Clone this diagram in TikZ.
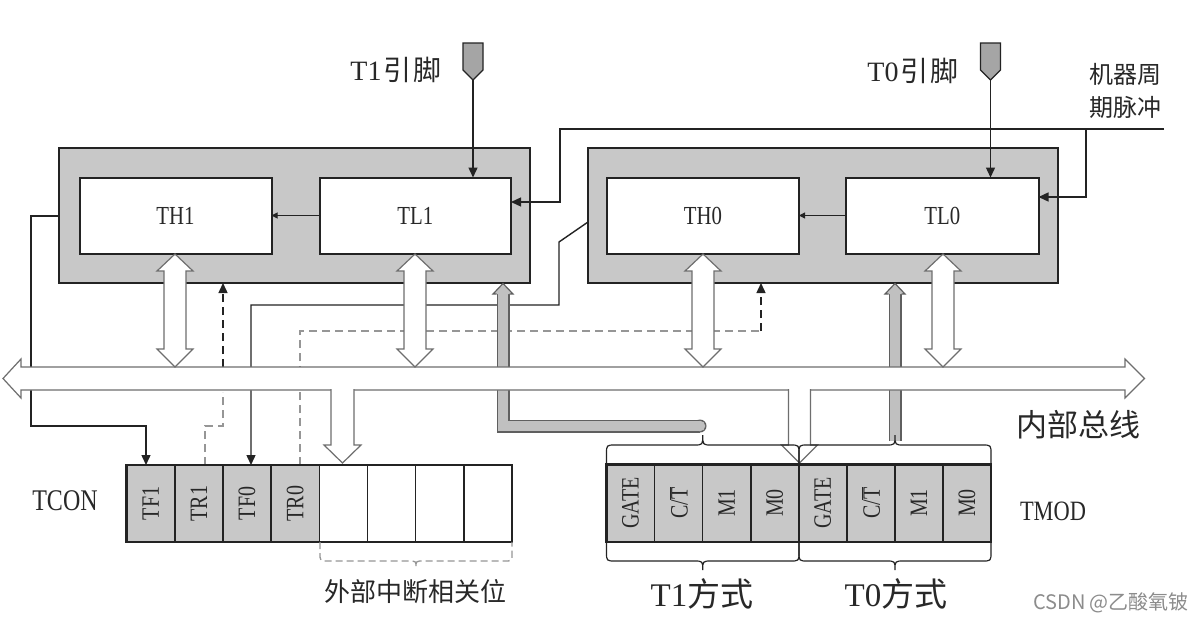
\documentclass[tikz,border=0pt]{standalone}
\usepackage{fontspec}
\setmainfont{Liberation Serif}
\newfontfamily\narrow[FakeStretch=0.8]{Liberation Serif}
\newfontfamily\cjk{Noto Sans CJK SC}
\usetikzlibrary{arrows.meta}
\definecolor{boxgray}{RGB}{200,200,200}
\definecolor{pingray}{RGB}{165,165,165}
\definecolor{bandgray}{RGB}{192,192,192}
\definecolor{bandedge}{RGB}{95,95,95}
\definecolor{edge}{RGB}{35,35,35}
\definecolor{arrowedge}{RGB}{110,110,110}
\definecolor{dashgray}{RGB}{150,150,150}
\definecolor{txt}{RGB}{40,40,40}
\definecolor{wm}{RGB}{140,140,140}
\newcommand\dblarrow[1]{%
 \filldraw[hollow] (#1,254) -- ({#1+18},271) -- ({#1+11},271) -- ({#1+11},349) -- ({#1+18},349) -- (#1,367) -- ({#1-18},349) -- ({#1-11},349) -- ({#1-11},271) -- ({#1-18},271) -- cycle;}
\newcommand\drawbrace[8]{%
 \draw[#8] (#1,#3) -- (#1,{#4-(#7)}) .. controls (#1,#4) .. ({#1+#6},#4) -- ({(#1+#2)/2-#6},#4) .. controls ({(#1+#2)/2},#4) .. ({(#1+#2)/2},#5) .. controls ({(#1+#2)/2},#4) .. ({(#1+#2)/2+#6},#4) -- ({#2-#6},#4) .. controls (#2,#4) .. (#2,{#4-(#7)}) -- (#2,#3);}
\begin{document}
\begin{tikzpicture}[x=1pt,y=-1pt,
  outerbox/.style={draw=edge,line width=2pt,fill=boxgray,anchor=north west,inner sep=0pt,outer sep=0pt},
  innerbox/.style={draw=edge,line width=2pt,fill=white,inner sep=0pt,outer sep=0pt,minimum height=76pt,text=txt,font={\fontsize{26}{26}\selectfont\narrow}},
  conn/.style={draw=edge,line width=1.4pt},
  tipb/.style={-{Triangle[length=10pt,width=9pt]}},
  tips/.style={-{Triangle[length=6pt,width=6pt]}},
  hollow/.style={fill=white,draw=arrowedge,line width=1.2pt},
  gdash/.style={draw=dashgray,line width=1.4pt,dash pattern=on 8pt off 5pt},
  bdash/.style={draw=edge,line width=1.4pt,dash pattern=on 8pt off 5pt},
  celllab/.style={rotate=90,text=txt,inner sep=0pt,font={\fontsize{25}{25}\selectfont\narrow}},
  lab/.style={text=txt,inner sep=0pt},
  regbox/.style={draw=edge,line width=2.8pt,anchor=north west,inner sep=0pt,outer sep=0pt}]
\fill[white] (0,0) rectangle (1202,621);
\useasboundingbox (0,0) rectangle (1202,621);

% timer blocks
\node[outerbox,minimum width=471pt,minimum height=135pt] (T1box) at (59,148) {};
\node[outerbox,minimum width=470pt,minimum height=135pt] (T0box) at (588,148) {};
\node[innerbox,minimum width=192pt] (TH1) at (175.5,215.5) {TH1};
\node[innerbox,minimum width=191.5pt] (TL1) at (415.25,215.5) {TL1};
\node[innerbox,minimum width=192pt] (TH0) at (703,215.5) {TH0};
\node[innerbox,minimum width=192.5pt] (TL0) at (942.25,215.5) {TL0};
\draw[conn,line width=1pt,tips] (TL1.west) -- (TH1.east);
\draw[conn,line width=1pt,tips] (TL0.west) -- (TH0.east);

% pins
\filldraw[fill=pingray,draw=edge,line width=1.3pt] (463,43) -- (483,43) -- (483,70) -- (473,80) -- (463,70) -- cycle;
\filldraw[fill=pingray,draw=edge,line width=1.3pt] (980.5,43) -- (1000.5,43) -- (1000.5,70) -- (990.5,80) -- (980.5,70) -- cycle;
\coordinate (p1tip) at (473,80);
\coordinate (p0tip) at (990.5,80);
\draw[conn,tipb] (p1tip) -- (p1tip |- TL1.north);
\draw[conn,tipb] (p0tip) -- (p0tip |- TL0.north);
\node[lab,font={\fontsize{28}{28}\selectfont}] (t1pin) at (396,70) {T1\hspace{2pt}{\cjk 引\hspace{2pt}脚}};
\node[lab,font={\fontsize{28}{28}\selectfont}] (t0pin) at (913,71) {T0\hspace{2pt}{\cjk 引\hspace{2pt}脚}};

% machine cycle pulse
\node[lab,font={\fontsize{24}{24}\selectfont\cjk}] (mc1) at (1125,74) {机器周};
\node[lab,font={\fontsize{24}{24}\selectfont\cjk}] (mc2) at (1125,107) {期脉冲};
\coordinate (pulse) at (1164,129);
\coordinate (pj1) at (560,202);
\coordinate (pj0) at (1086,197);
\draw[conn,tipb] (pulse) -- (560,129) -- (pj1) -- (pj1 -| TL1.east);
\draw[conn,tipb] (1086,129) -- (pj0) -- (pj0 -| TL0.east);

% overflow lines to TCON
\coordinate (ov1) at (59,216);
\coordinate (ov0) at (588,222);
\coordinate (a1) at (146,426);
\coordinate (a0) at (251,305);
\coordinate (tconTop) at (0,465);
\draw[conn,tipb] (ov1) -- (31,216) -- (31,426) -- (a1) -- (a1 |- tconTop);
\draw[conn,tipb] (ov0) -- (559,242) -- (559,305) -- (a0) -- (a0 |- tconTop);

% TR1 / TR0 control lines
\draw[gdash] (205,465) -- (205,426) -- (223,426) -- (223,392);
\coordinate (tr1) at (223,367);
\draw[bdash,tipb] (tr1) -- (tr1 |- T1box.south);
\draw[gdash] (300,465) -- (300,331) -- (761,331);
\coordinate (tr0) at (761,331);
\draw[bdash,tipb] (tr0) -- (tr0 |- T0box.south);

% gray mode bands
\draw[line width=13pt,draw=bandedge] (503,294) -- (503,426) -- (700,426);
\fill[bandedge] (700,426) circle (6.5);
\draw[line width=10.5pt,draw=bandgray] (503,294) -- (503,426) -- (700,426);
\fill[bandgray] (700,426) circle (5.25);
\filldraw[fill=bandgray,draw=bandedge,line width=1.2pt] (496.5,294) -- (493,294) -- (503,283.5) -- (513,294) -- (509.5,294);
\draw[line width=13pt,draw=bandedge] (895,294) -- (895,441);
\draw[line width=10.5pt,draw=bandgray] (895,294) -- (895,441);
\filldraw[fill=bandgray,draw=bandedge,line width=1.2pt] (888.5,294) -- (885,294) -- (895,283.5) -- (905,294) -- (901.5,294);

% internal bus
\filldraw[hollow] (3,378.5) -- (21,359) -- (21,367) -- (1125,367) -- (1125,359) -- (1144.5,378.5) -- (1125,398) -- (1125,390) -- (21,390) -- (21,398) -- cycle;
\filldraw[hollow] (331,389) -- (331,445) -- (324,445) -- (342.5,463) -- (361,445) -- (354,445) -- (354,389);
\filldraw[hollow] (788.5,389) -- (788.5,445) -- (781.5,445) -- (799.5,463) -- (817.5,445) -- (810.5,445) -- (810.5,389);
\dblarrow{175}
\dblarrow{415}
\dblarrow{703}
\dblarrow{943}
\node[lab,font={\fontsize{31}{31}\selectfont\cjk}] (busl) at (1078,425) {内部总线};

% TCON
\fill[boxgray] (126.5,465) rectangle (319.3,542);
\foreach \x in {174.7,222.9,271.1,319.3,367.5,415.6,463.8} \draw[draw=edge,line width=1.6pt] (\x,465) -- (\x,542);
\node[regbox,minimum width=385.5pt,minimum height=77pt] (TCON) at (126.5,465) {};
\node[celllab] (tf1) at (150.6,503.5) {TF1};
\node[celllab] (tr1l) at (198.8,503.5) {TR1};
\node[celllab] (tf0) at (247,503.5) {TF0};
\node[celllab] (tr0l) at (295.2,503.5) {TR0};
\node[lab,font={\fontsize{30}{30}\selectfont\narrow}] (tconl) at (65,501) {TCON};
\drawbrace{320}{512}{542}{561}{567}{8}{8}{draw=dashgray,line width=1.3pt,dash pattern=on 7pt off 4pt}
\node[lab,font={\fontsize{26}{26}\selectfont\cjk}] (ext) at (415,592) {外部中断相关位};

% TMOD
\fill[boxgray] (606.5,464.5) rectangle (991,542);
\foreach \x in {654.6,702.6,750.7,798.8,846.8,894.9,942.9} \draw[draw=edge,line width=1.6pt] (\x,464.5) -- (\x,542);
\node[regbox,minimum width=384.5pt,minimum height=77.5pt] (TMOD) at (606.5,464.5) {};
\node[celllab] (g1) at (630.5,503) {GATE};
\node[celllab] (ct1) at (678.6,503) {C/$\overline{\hbox{T}}$};
\node[celllab] (m11) at (726.7,503) {M1};
\node[celllab] (m01) at (774.7,503) {M0};
\node[celllab] (g0) at (822.8,503) {GATE};
\node[celllab] (ct0) at (870.9,503) {C/$\overline{\hbox{T}}$};
\node[celllab] (m10) at (918.9,503) {M1};
\node[celllab] (m00) at (967,503) {M0};
\node[lab,font={\fontsize{28}{28}\selectfont\narrow}] (tmodl) at (1053,511) {TMOD};
\drawbrace{606.5}{799}{464}{445}{435}{9}{-9}{draw=edge,line width=1.2pt}
\drawbrace{799}{991}{464}{445}{435}{9}{-9}{draw=edge,line width=1.2pt}
\drawbrace{606.5}{799}{542}{561}{570}{9}{9}{draw=edge,line width=1.2pt}
\drawbrace{799}{991}{542}{561}{570}{9}{9}{draw=edge,line width=1.2pt}
\node[lab,font={\fontsize{33}{33}\selectfont}] (t1m) at (702,594) {T1{\cjk 方式}};
\node[lab,font={\fontsize{33}{33}\selectfont}] (t0m) at (896,594) {T0{\cjk 方式}};

% watermark
\node[inner sep=0pt,text=wm,font={\fontsize{20}{20}\selectfont\cjk}] (wmk) at (1111,603) {CSDN @乙酸氧铍};
\end{tikzpicture}
\end{document}
